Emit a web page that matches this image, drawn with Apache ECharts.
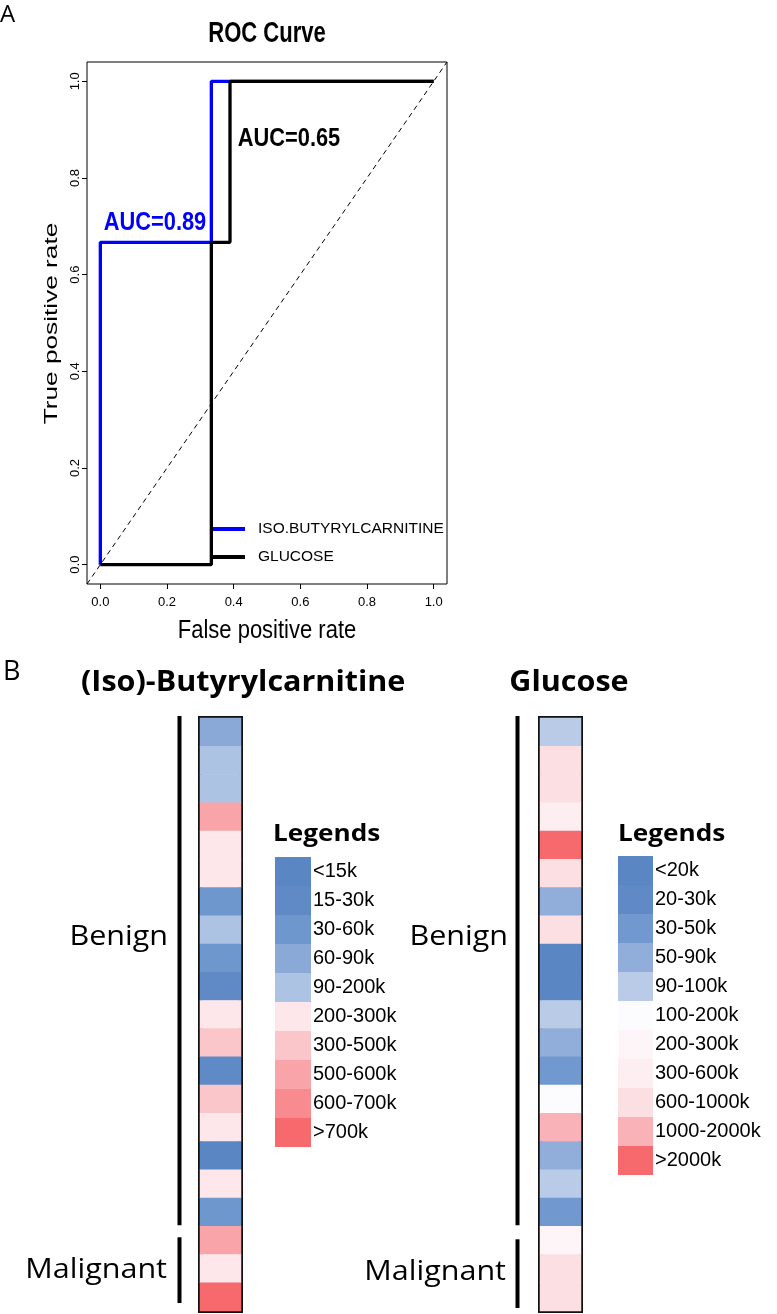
<!DOCTYPE html>
<html><head><meta charset="utf-8">
<script src="https://cdn.jsdelivr.net/npm/echarts@6/dist/echarts.min.js"></script>
<style>html,body{margin:0;padding:0;background:#fff}#c{width:777px;height:1314px}</style>
</head><body><div id="c"></div>
<script>
// ---------- ROC data ----------
const rocTicks = [0, 0.2, 0.4, 0.6, 0.8, 1.0];
const isoFPR = [0, 0, 0.333, 0.333, 1];
const isoTPR = [0, 0.667, 0.667, 1, 1];
const gluFPR = [0, 0.333, 0.333, 0.389, 0.389, 1];
const gluTPR = [0, 0, 0.667, 0.667, 1, 1];
const diagX = [-0.04, 1.04];
const diagY = [-0.04, 1.04];
const rocSeriesNames = ['ISO.BUTYRYLCARNITINE', 'GLUCOSE'];
const rocColors = ['#0000ff', '#000000'];
const aucTexts = ['AUC=0.89', 'AUC=0.65'];
const aucAnchors = [[0.01, 0.707], [0.412, 0.882]];

// ---------- Heatmap data ----------
const groups = ['Benign', 'Malignant'];
const groupSizes = [18, 3];
const isoValues = [75, 110, 180, 550, 210, 250, 45, 95, 50, 25, 220, 400, 25, 380, 260, 10, 240, 40, 560, 205, 800];
const gluValues = [95, 800, 750, 450, 2500, 700, 70, 850, 15, 18, 95, 60, 40, 150, 1200, 55, 92, 35, 250, 700, 650];
const isoBreaks = [15, 30, 60, 90, 200, 300, 500, 600, 700];
const isoLabels = ['<15k', '15-30k', '30-60k', '60-90k', '90-200k', '200-300k', '300-500k', '500-600k', '600-700k', '>700k'];
const isoColors = ['#5a86c4', '#5f8ac6', '#6e97cd', '#8aa9d7', '#acc3e3', '#fde7eb', '#fbc6c9', '#f9a4a8', '#f88b8f', '#f6696c'];
const gluBreaks = [20, 30, 50, 90, 100, 200, 300, 600, 1000, 2000];
const gluLabels = ['<20k', '20-30k', '30-50k', '50-90k', '90-100k', '100-200k', '200-300k', '300-600k', '600-1000k', '1000-2000k', '>2000k'];
const gluColors = ['#5a86c4', '#5f8ac6', '#7199cf', '#91add9', '#b9cbe7', '#fcfcfe', '#fdf5f8', '#fdeef1', '#fbdfe3', '#f9b3b8', '#f6696d'];

const ARIAL = '"Liberation Sans", Arial, sans-serif';
const CAL = '"Open Sans", "Liberation Sans", sans-serif';

function makePieces(breaks, labels, colors) {
  return labels.map(function (lab, i) {
    const p = { label: lab, color: colors[i] };
    if (i > 0) p.gte = breaks[i - 1];
    if (i < breaks.length) p.lt = breaks[i];
    return p;
  });
}
const nRows = isoValues.length;
const rowNames = isoValues.map(function (_, i) { return 'r' + i; });

const HM = { top: 718, height: 593, lefts: [200, 540], width: 41 };

const chart = echarts.init(document.getElementById('c'), null, { renderer: 'canvas' });

const option = {
  animation: false,
  backgroundColor: '#fff',
  grid: [
    { left: 87, top: 62, width: 360, height: 522, show: true, borderColor: '#000', borderWidth: 1, backgroundColor: 'transparent' },
    { left: HM.lefts[0], top: HM.top, width: HM.width, height: HM.height, show: true, borderColor: '#111', borderWidth: 4 },
    { left: HM.lefts[1], top: HM.top, width: HM.width, height: HM.height, show: true, borderColor: '#111', borderWidth: 4 }
  ],
  xAxis: [
    { gridIndex: 0, type: 'value', min: -0.04, max: 1.04, position: 'bottom',
      axisLine: { show: false, onZero: false }, splitLine: { show: false },
      axisTick: { show: true, inside: false, customValues: rocTicks, length: 5, lineStyle: { color: '#000', width: 1 } },
      axisLabel: { customValues: rocTicks, margin: 12, color: '#000', fontFamily: ARIAL, fontSize: 13,
        formatter: function (v) { return v.toFixed(1); } } },
    { gridIndex: 1, type: 'category', data: ['v'], show: false },
    { gridIndex: 2, type: 'category', data: ['v'], show: false }
  ],
  yAxis: [
    { gridIndex: 0, type: 'value', min: -0.04, max: 1.04, position: 'left',
      axisLine: { show: false, onZero: false }, splitLine: { show: false },
      axisTick: { show: true, inside: false, customValues: rocTicks, length: 5, lineStyle: { color: '#000', width: 1 } },
      axisLabel: { customValues: rocTicks, margin: 5, rotate: 90, color: '#000', fontFamily: ARIAL, fontSize: 13,
        formatter: function (v) { return v.toFixed(1); } } },
    { gridIndex: 1, type: 'category', data: rowNames, inverse: true, show: false },
    { gridIndex: 2, type: 'category', data: rowNames, inverse: true, show: false }
  ],
  legend: {
    data: rocSeriesNames, orient: 'vertical', left: 213, top: 519, padding: 0,
    itemGap: 8, itemWidth: 32, itemHeight: 4, icon: 'rect', selectedMode: false,
    textStyle: { fontFamily: ARIAL, fontSize: 15.5, color: '#000', lineHeight: 20, padding: [0, 0, 0, 8] }
  },
  visualMap: [
    { type: 'piecewise', seriesIndex: 3, dimension: 2, pieces: makePieces(isoBreaks, isoLabels, isoColors),
      inverse: true, orient: 'vertical', align: 'left', left: 275, top: 857, padding: 0, itemGap: 0, itemWidth: 36, itemHeight: 29,
      itemSymbol: 'rect', textGap: 2, selectedMode: false, hoverLink: false,
      textStyle: { fontFamily: ARIAL, fontSize: 20, color: '#000' } },
    { type: 'piecewise', seriesIndex: 4, dimension: 2, pieces: makePieces(gluBreaks, gluLabels, gluColors),
      inverse: true, orient: 'vertical', align: 'left', left: 618, top: 856, padding: 0, itemGap: 0, itemWidth: 35, itemHeight: 29,
      itemSymbol: 'rect', textGap: 2, selectedMode: false, hoverLink: false,
      textStyle: { fontFamily: ARIAL, fontSize: 20, color: '#000' } }
  ],
  series: [
    { name: 'diag', type: 'line', xAxisIndex: 0, yAxisIndex: 0, showSymbol: false, silent: true,
      data: diagX.map(function (x, i) { return [x, diagY[i]]; }),
      lineStyle: { color: '#000', width: 1, type: [5, 4] }, itemStyle: { color: '#000' }, z: 1 },
    { name: rocSeriesNames[0], type: 'line', xAxisIndex: 0, yAxisIndex: 0, showSymbol: false, silent: true,
      data: isoFPR.map(function (x, i) { return [x, isoTPR[i]]; }),
      lineStyle: { color: rocColors[0], width: 3.3 }, itemStyle: { color: rocColors[0] }, z: 2 },
    { name: rocSeriesNames[1], type: 'line', xAxisIndex: 0, yAxisIndex: 0, showSymbol: false, silent: true,
      data: gluFPR.map(function (x, i) { return [x, gluTPR[i]]; }),
      lineStyle: { color: rocColors[1], width: 3.3 }, itemStyle: { color: rocColors[1] }, z: 3 },
    { name: 'iso', type: 'heatmap', xAxisIndex: 1, yAxisIndex: 1, silent: true, emphasis: { disabled: true },
      data: isoValues.map(function (v, i) { return [0, i, v]; }) },
    { name: 'glu', type: 'heatmap', xAxisIndex: 2, yAxisIndex: 2, silent: true, emphasis: { disabled: true },
      data: gluValues.map(function (v, i) { return [0, i, v]; }) }
  ]
};
chart.setOption(option);

// ---------- annotations ----------
const G = [];
function addText(text, x, y, style, extra) {
  G.push(Object.assign({ type: 'text', x: x, y: y, silent: true, z: 100,
    style: Object.assign({ text: text, fill: '#000', verticalAlign: 'middle' }, style) }, extra || {}));
}
addText('A', 0, 15, { font: '24px ' + CAL, align: 'left' });
addText('B', 3, 672, { font: '27px ' + CAL, align: 'left' });
addText('ROC Curve', 267, 34, { font: 'bold 29px ' + ARIAL, align: 'center' }, { scaleX: 0.76 });
addText('False positive rate', 267, 631, { font: '22px ' + ARIAL, align: 'center' }, { scaleY: 1.19 });
addText('True positive rate', 51.5, 323.5, { font: '19px ' + ARIAL, align: 'center' }, { rotation: Math.PI / 2, scaleX: 1.38 });
aucTexts.forEach(function (t, i) {
  const p = chart.convertToPixel({ gridIndex: 0 }, aucAnchors[i]);
  addText(t, p[0], p[1], { font: 'bold 26px ' + ARIAL, align: 'left', fill: rocColors[i] }, { scaleX: 0.84 });
});
addText('(Iso)-Butyrylcarnitine', 81, 683, { font: 'bold 28px ' + CAL, align: 'left' }, { scaleX: 1.09 });
addText('Glucose', 569, 683, { font: 'bold 28px ' + CAL, align: 'center' }, { scaleX: 1.09 });
addText('Legends', 273, 834, { font: 'bold 24px ' + CAL, align: 'left' }, { scaleX: 1.09 });
addText('Legends', 618, 834, { font: 'bold 24px ' + CAL, align: 'left' }, { scaleX: 1.09 });
const rowH = HM.height / nRows;
const bracketX = [179.5, 517.5];
const labelRight = [[168, 167], [508, 506]];
const labelMidY = [[937, 1270], [937, 1272]];
const bracketInset = [[[-2, -1], [11, -8]], [[-2, -1], [13, -3]]];
[0, 1].forEach(function (c) {
  let start = 0;
  groupSizes.forEach(function (n, g) {
    const y0 = HM.top + start * rowH + bracketInset[c][g][0];
    const y1 = HM.top + (start + n) * rowH + bracketInset[c][g][1];
    G.push({ type: 'line', silent: true, z: 100, shape: { x1: bracketX[c], y1: y0, x2: bracketX[c], y2: y1 },
      style: { stroke: '#000', lineWidth: 4 } });
    addText(groups[g], labelRight[c][g], labelMidY[c][g], { font: '28px ' + CAL, align: 'right' }, { scaleX: 1.09 });
    start += n;
  });
});
chart.setOption({ graphic: G });
</script>
</body></html>
